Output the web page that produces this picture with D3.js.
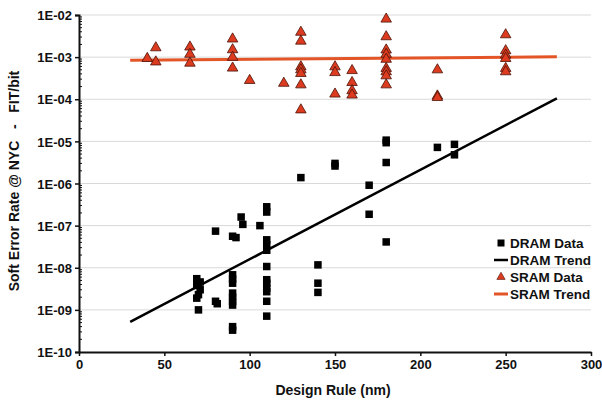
<!DOCTYPE html>
<html lang="en">
  <head>
    <meta charset="UTF-8" />
    <title>Soft Error Rate vs Design Rule</title>
    <script src="https://d3js.org/d3.v7.min.js"></script>
    <style>
      body {
        margin: 0;
        background: #fff;
      }
      text {
        font-family: "Liberation Sans", Arial, sans-serif;
        font-weight: bold;
        fill: #111;
      }
      .grid line {
        stroke: #d9d9d9;
        stroke-width: 1;
      }
    </style>
  </head>
  <body>
    <svg width="602" height="401"></svg>
    <script>
      // DRAM data (design rule nm, FIT/bit)
      const dramX = [69, 71, 69, 71, 70, 69, 70,
        80, 80, 81,
        90, 90, 90, 90, 90, 90, 90, 90, 90, 90, 92,
        95, 96, 106,
        110, 110, 110, 110, 110, 110, 110, 110, 110, 110, 110, 110,
        130, 140, 140, 140, 150, 150, 170, 170,
        180, 180, 180, 180, 210, 220, 220];
      const dramY = [5.5e-9, 4.6e-9, 3.8e-9, 3.0e-9, 2.3e-9, 1.9e-9, 1.0e-9,
        7.4e-8, 1.6e-9, 1.4e-9,
        5.6e-8, 6.8e-9, 5.4e-9, 4.3e-9, 2.5e-9, 2.0e-9, 1.6e-9, 1.3e-9, 4.0e-10, 3.3e-10, 5.2e-8,
        1.6e-7, 1.07e-7, 1.0e-7,
        2.8e-7, 2.1e-7, 4.6e-8, 3.5e-8, 2.6e-8, 1.07e-8, 5.2e-9, 4.3e-9, 3.3e-9, 2.7e-9, 1.6e-9, 7.1e-10,
        1.38e-6, 1.17e-8, 4.3e-9, 2.6e-9, 3.0e-6, 2.6e-6, 9.1e-7, 1.86e-7,
        1.07e-5, 9.3e-6, 3.15e-6, 4.1e-8, 7.2e-6, 8.5e-6, 4.8e-6];

      // SRAM data
      const sramX = [40, 45, 45, 65, 65, 65, 90, 90, 90, 90, 100, 120,
        130, 130, 130, 130, 130, 130, 130,
        150, 150, 150, 160, 160, 160, 160,
        180, 180, 180, 180, 180, 180, 180, 180, 180,
        210, 210, 210,
        250, 250, 250, 250, 250, 250];
      const sramY = [9.3e-4, 1.67e-3, 7.7e-4, 1.74e-3, 1.17e-3, 7.2e-4, 2.7e-3, 1.5e-3, 9.9e-4, 5.5e-4, 2.8e-4, 2.4e-4,
        3.9e-3, 2.4e-3, 5.9e-4, 5.0e-4, 4.1e-4, 2.2e-4, 5.6e-5,
        5.9e-4, 4.3e-4, 1.33e-4, 4.8e-4, 2.5e-4, 1.6e-4, 1.26e-4,
        8.0e-3, 3.05e-3, 1.48e-3, 1.17e-3, 8.9e-4, 5.4e-4, 4.5e-4, 3.6e-4, 2.2e-4,
        5.0e-4, 1.2e-4, 1.1e-4,
        3.4e-3, 1.42e-3, 1.12e-3, 9.3e-4, 5.4e-4, 4.5e-4];

      // trend line end points
      const trendX = [30, 280];
      const dramTrendY = [5.2e-10, 1.05e-4];
      const sramTrendY = [8.4e-4, 1.02e-3];

      const xTicks = [0, 50, 100, 150, 200, 250, 300];
      const yTicks = [1e-10, 1e-9, 1e-8, 1e-7, 1e-6, 1e-5, 1e-4, 1e-3, 1e-2];
      const legendLabels = ["DRAM Data", "DRAM Trend", "SRAM Data", "SRAM Trend"];

      const svg = d3.select("svg");
      const plotL = 79, plotR = 591, plotT = 15, plotB = 352;

      const x = d3.scaleLinear().domain([0, 300]).range([plotL, plotR]);
      const y = d3.scaleLog().domain([1e-10, 1e-2]).range([plotB, plotT]);

      const red = "#dc3b1f";
      const orange = "#e35427";

      // gridlines
      svg.append("g")
        .attr("class", "grid")
        .selectAll("line")
        .data(yTicks.slice(1))
        .join("line")
        .attr("x1", plotL)
        .attr("x2", plotR)
        .attr("y1", (d) => y(d))
        .attr("y2", (d) => y(d));

      // minor ticks on y axis (inside)
      const minor = [];
      yTicks.slice(0, -1).forEach((t) => {
        for (let k = 2; k <= 9; k++) minor.push(t * k);
      });
      svg.append("g")
        .selectAll("line")
        .data(minor)
        .join("line")
        .attr("x1", plotL)
        .attr("x2", plotL + 3)
        .attr("y1", (d) => y(d))
        .attr("y2", (d) => y(d))
        .attr("stroke", "#111")
        .attr("stroke-width", 1);

      // y axis
      const yAxis = svg.append("g")
        .attr("transform", `translate(${plotL},0)`)
        .call(d3.axisLeft(y).tickValues(yTicks).tickSize(4).tickPadding(3)
          .tickFormat((d) => "1E-" + String(Math.round(-Math.log10(d))).padStart(2, "0")));
      yAxis.select(".domain").attr("stroke", "#111").attr("stroke-width", 2);
      yAxis.selectAll(".tick line").attr("stroke", "#111").attr("stroke-width", 1.5);
      yAxis.selectAll("text").style("font-size", "13px").attr("dy", "0.36em");

      // x axis
      const xAxis = svg.append("g")
        .attr("transform", `translate(0,${plotB})`)
        .call(d3.axisBottom(x).tickValues(xTicks).tickSize(4).tickPadding(4).tickSizeOuter(0));
      xAxis.select(".domain").attr("stroke", "#111").attr("stroke-width", 2);
      xAxis.selectAll(".tick line").attr("stroke", "#111").attr("stroke-width", 1.5);
      xAxis.selectAll("text").style("font-size", "13px");

      // trend lines
      const line = d3.line().x((d) => x(d[0])).y((d) => y(d[1]));
      svg.append("path")
        .datum(d3.zip(trendX, sramTrendY))
        .attr("d", line)
        .attr("fill", "none")
        .attr("stroke", orange)
        .attr("stroke-width", 3);

      svg.append("path")
        .datum(d3.zip(trendX, dramTrendY))
        .attr("d", line)
        .attr("fill", "none")
        .attr("stroke", "#000")
        .attr("stroke-width", 2.5);

      // DRAM squares
      const sq = 7.5;
      svg.append("g")
        .selectAll("rect")
        .data(d3.zip(dramX, dramY))
        .join("rect")
        .attr("x", (d) => x(d[0]) - sq / 2)
        .attr("y", (d) => y(d[1]) - sq / 2)
        .attr("width", sq)
        .attr("height", sq)
        .attr("fill", "#000");

      // SRAM triangles
      const tri = d3.symbol().type(d3.symbolTriangle).size(48);
      svg.append("g")
        .selectAll("path")
        .data(d3.zip(sramX, sramY))
        .join("path")
        .attr("d", tri)
        .attr("transform", (d) => `translate(${x(d[0])},${y(d[1])})`)
        .attr("fill", red)
        .attr("stroke", "#4a1208")
        .attr("stroke-width", 0.8);

      // legend
      const lg = svg.append("g").attr("transform", "translate(501,243)");
      const rowH = 17;
      lg.append("rect").attr("x", -3.5).attr("y", -3.5).attr("width", 7).attr("height", 7).attr("fill", "#000");
      lg.append("line").attr("x1", -7).attr("x2", 7).attr("y1", rowH).attr("y2", rowH)
        .attr("stroke", "#000").attr("stroke-width", 2.5);
      lg.append("path").attr("d", d3.symbol().type(d3.symbolTriangle).size(30))
        .attr("transform", `translate(0,${rowH * 2})`)
        .attr("fill", red).attr("stroke", "#4a1208").attr("stroke-width", 0.6);
      lg.append("line").attr("x1", -7).attr("x2", 7).attr("y1", rowH * 3).attr("y2", rowH * 3)
        .attr("stroke", orange).attr("stroke-width", 3);
      lg.selectAll("text.lab")
        .data(legendLabels)
        .join("text")
        .attr("class", "lab")
        .attr("x", 9)
        .attr("y", (d, i) => i * rowH)
        .attr("dy", "0.36em")
        .style("font-size", "13.5px")
        .text((d) => d);

      // axis titles
      svg.append("text")
        .attr("x", 333)
        .attr("y", 395)
        .attr("text-anchor", "middle")
        .style("font-size", "14px")
        .text("Design Rule (nm)");

      svg.append("text")
        .attr("transform", "translate(19,181) rotate(-90)")
        .attr("text-anchor", "middle")
        .style("font-size", "14px")
        .style("white-space", "pre")
        .text("Soft Error Rate @ NYC   -   FIT/bit");
    </script>
  </body>
</html>
